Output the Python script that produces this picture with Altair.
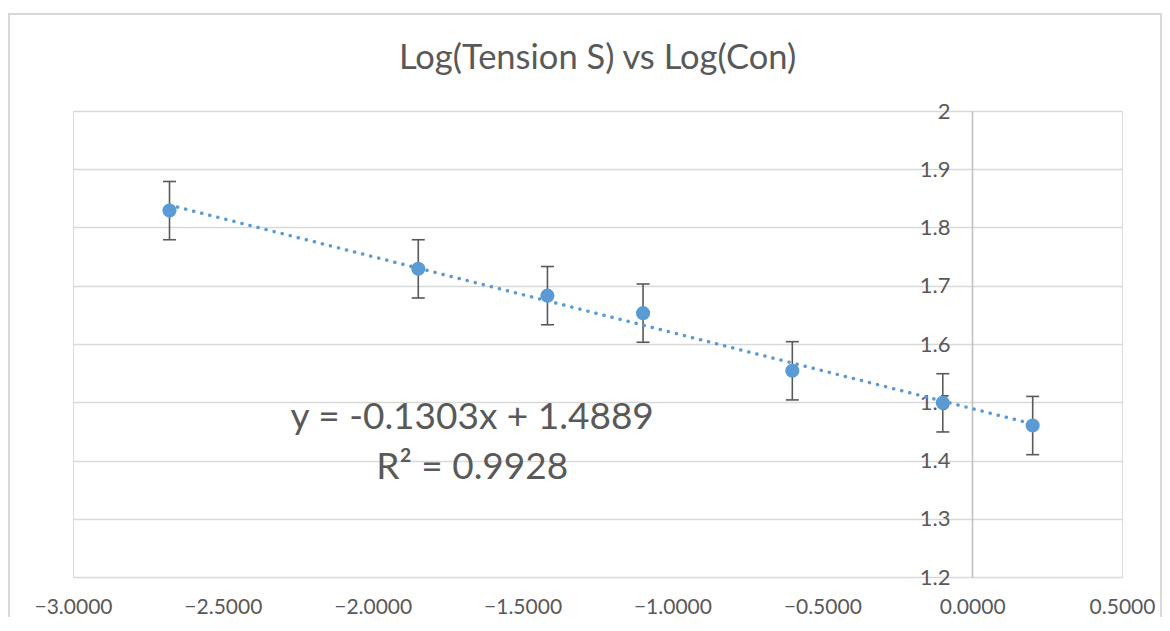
import altair as alt
import pandas as pd

# ---- data ----
x_vals = [-2.678, -1.848, -1.417, -1.098, -0.600, -0.098, 0.202]
y_vals = [1.829, 1.729, 1.683, 1.653, 1.554, 1.499, 1.460]
err_vals = [0.05, 0.05, 0.05, 0.05, 0.05, 0.05, 0.05]

x_ticks = [-3.0, -2.5, -2.0, -1.5, -1.0, -0.5, 0.0, 0.5]
y_ticks = [1.2, 1.3, 1.4, 1.5, 1.6, 1.7, 1.8, 1.9, 2.0]

title_text = ["Log(Tension S) vs Log(Con)"]
eq_lines = ["y = -0.1303x + 1.4889", "R² = 0.9928"]
eq_x = [-1.668, -1.668]
eq_y = [1.473, 1.387]

W, H = 1049, 466
FONT = "Lato"
TXT = "#595959"
BLUE = "#5b9bd5"

df = pd.DataFrame({
    "x": x_vals,
    "y": y_vals,
    "lo": [y - e for y, e in zip(y_vals, err_vals)],
    "hi": [y + e for y, e in zip(y_vals, err_vals)],
})
eq_df = pd.DataFrame({"x": eq_x, "y": eq_y, "t": eq_lines})
title_df = pd.DataFrame({"t": title_text})

xscale = alt.Scale(domain=[-3.0, 0.5], nice=False, zero=False)
yscale = alt.Scale(domain=[1.2, 2.0], nice=False, zero=False)

xaxis = alt.Axis(
    values=x_ticks, format=".4f", title=None, grid=False, domain=False,
    ticks=False, labelFlush=False, labelOverlap=False, labelPadding=30,
    labelBaseline="middle", labelFont=FONT, labelFontSize=21, labelColor=TXT,
)
yaxis = alt.Axis(
    values=y_ticks, format="~g", title=None, orient="left", offset=-899,
    ticks=False, labelPadding=22, labelFont=FONT, labelFontSize=22,
    labelColor=TXT, labelOverlap=False, labelFlush=False,
    domainColor="#bfbfbf", domainWidth=1.5,
    grid=True, gridColor="#d9d9d9", gridWidth=1.5,
)

base = alt.Chart(df)

border = alt.Chart(pd.DataFrame({"a": [0]})).mark_rect(
    fill=None, stroke="#d9d9d9", strokeWidth=2
).encode(
    x=alt.value(-64), x2=alt.value(W + 39), y=alt.value(-97), y2=alt.value(H + 80)
)

title = alt.Chart(title_df).mark_text(
    font=FONT, fontSize=34.5, color=TXT, align="center", baseline="alphabetic"
).encode(x=alt.value(W / 2), y=alt.value(-42), text="t:N")

points = base.mark_circle(size=200, color=BLUE, opacity=1).encode(
    x=alt.X("x:Q", scale=xscale, axis=xaxis),
    y=alt.Y("y:Q", scale=yscale, axis=yaxis),
)

trend = base.transform_regression("x", "y").mark_line(
    color=BLUE, strokeWidth=3.5, strokeDash=[0.1, 8.2], strokeCap="round"
).encode(x=alt.X("x:Q", scale=xscale), y=alt.Y("y:Q", scale=yscale))

bars = base.mark_rule(color=TXT, strokeWidth=1.6).encode(
    x=alt.X("x:Q", scale=xscale), y=alt.Y("lo:Q", scale=yscale), y2="hi:Q"
)
cap_lo = base.mark_tick(orient="horizontal", size=13, thickness=1.6, color=TXT, opacity=1).encode(
    x=alt.X("x:Q", scale=xscale), y=alt.Y("lo:Q", scale=yscale)
)
cap_hi = base.mark_tick(orient="horizontal", size=13, thickness=1.6, color=TXT, opacity=1).encode(
    x=alt.X("x:Q", scale=xscale), y=alt.Y("hi:Q", scale=yscale)
)

eq_text = alt.Chart(eq_df).mark_text(
    font=FONT, fontSize=37, color=TXT, align="center", baseline="middle"
).encode(x=alt.X("x:Q", scale=xscale), y=alt.Y("y:Q", scale=yscale), text="t:N")

chart = alt.layer(border, title, bars, cap_lo, cap_hi, trend, points, eq_text).properties(
    width=W, height=H,
    autosize=alt.AutoSizeParams(type="none"),
    padding={"left": 65, "top": 103, "right": 40, "bottom": 40},
).configure_view(stroke="transparent", strokeWidth=0).configure(background="white")

chart.save("out.html", embed_options={"renderer": "svg", "actions": False})
